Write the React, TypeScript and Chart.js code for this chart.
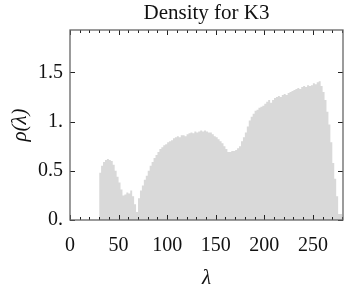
import React, { useEffect, useRef } from "react";
import { Chart, registerables } from "chart.js";

Chart.register(...registerables);

const title = "Density for K3";
const xLabel = "λ";
const yLabel = "ρ(λ)";
const binStart = 30;
const binWidth = 2;
const density = [
  0.30, 0.48, 0.55, 0.59, 0.61, 0.62, 0.61, 0.60, 0.56, 0.50,
  0.44, 0.38, 0.31, 0.25, 0.26, 0.28, 0.27, 0.30, 0.24, 0.16,
  0.08, 0.22, 0.30, 0.35, 0.41, 0.45, 0.50, 0.55, 0.59, 0.63,
  0.66, 0.69, 0.72, 0.74, 0.76, 0.77, 0.79, 0.80, 0.81, 0.83,
  0.84, 0.85, 0.84, 0.86, 0.86, 0.85, 0.87, 0.88, 0.89, 0.88,
  0.90, 0.89, 0.90, 0.91, 0.90, 0.91, 0.90, 0.89, 0.89, 0.87,
  0.85, 0.84, 0.82, 0.80, 0.78, 0.75, 0.72, 0.69, 0.69, 0.70,
  0.70, 0.71, 0.73, 0.75, 0.80, 0.84, 0.89, 0.95, 1.01, 1.05,
  1.08, 1.11, 1.12, 1.14, 1.15, 1.16, 1.18, 1.20, 1.22, 1.19,
  1.22, 1.24, 1.25, 1.26, 1.25, 1.27, 1.28, 1.27, 1.29, 1.30,
  1.31, 1.32, 1.33, 1.34, 1.33, 1.35, 1.36, 1.35, 1.37, 1.36,
  1.37, 1.39, 1.38, 1.40, 1.41, 1.36, 1.30, 1.22, 1.10, 0.97,
  0.79, 0.58, 0.42, 0.24, 0.06,
];
const xTicks = [0, 50, 100, 150, 200, 250];
const yTicks = [0, 0.5, 1, 1.5];
const yTickLabels = ["0.", "0.5", "1.", "1.5"];
const xMax = 281;
const yMax = 1.93;

const SERIF = "'Liberation Serif', 'DejaVu Serif', serif";

const frameTicks = {
  id: "frameTicks",
  afterDraw(chart: any) {
    const { ctx, chartArea: a, scales } = chart;
    const xs = scales.x;
    const ys = scales.y;
    ctx.save();
    ctx.strokeStyle = "#222";
    ctx.lineWidth = 1;
    ctx.beginPath();
    for (let v = 0; v <= xMax; v += 10) {
      const px = Math.round(xs.getPixelForValue(v)) + 0.5;
      const len = v % 50 === 0 ? 5 : 3;
      ctx.moveTo(px, a.bottom);
      ctx.lineTo(px, a.bottom - len);
      ctx.moveTo(px, a.top);
      ctx.lineTo(px, a.top + len);
    }
    for (const v of yTicks) {
      const py = Math.round(ys.getPixelForValue(v)) + 0.5;
      ctx.moveTo(a.left, py);
      ctx.lineTo(a.left + 5, py);
      ctx.moveTo(a.right, py);
      ctx.lineTo(a.right - 5, py);
    }
    ctx.stroke();
    ctx.strokeStyle = "#666";
    ctx.lineWidth = 1.3;
    ctx.strokeRect(a.left, a.top, a.right - a.left, a.bottom - a.top);
    ctx.fillStyle = "#111";
    ctx.textAlign = "center";
    ctx.textBaseline = "alphabetic";
    ctx.font = `21px ${SERIF}`;
    ctx.fillText(title, (a.left + a.right) / 2, 19);
    ctx.font = `italic 21px ${SERIF}`;
    ctx.fillText(xLabel, (a.left + a.right) / 2, 284);
    ctx.save();
    ctx.translate(26, (a.top + a.bottom) / 2);
    ctx.rotate(-Math.PI / 2);
    ctx.fillText(yLabel, 0, 0);
    ctx.restore();
    ctx.restore();
  },
};

export default function App() {
  const ref = useRef<HTMLCanvasElement | null>(null);
  useEffect(() => {
    if (!ref.current) return;
    const pts = density.map((v, i) => ({ x: binStart + i * binWidth, y: v }));
    pts.push({ x: binStart + density.length * binWidth, y: density[density.length - 1] });
    const chart = new Chart(ref.current, {
      type: "line",
      data: {
        datasets: [
          {
            data: pts,
            stepped: "after",
            fill: "origin",
            backgroundColor: "#d9d9d9",
            borderWidth: 0,
            borderColor: "rgba(0,0,0,0)",
            pointRadius: 0,
          },
        ],
      },
      plugins: [frameTicks],
      options: {
        animation: false,
        responsive: false,
        layout: { padding: { top: 30, right: 2, left: 0, bottom: 0 } },
        plugins: { legend: { display: false }, title: { display: false }, tooltip: { enabled: false } },
        scales: {
          x: {
            type: "linear",
            min: 0,
            max: xMax,
            grid: { display: false, drawTicks: false },
            border: { display: false },
            afterBuildTicks: (s: any) => {
              s.ticks = xTicks.map((v) => ({ value: v }));
            },
            afterFit: (s: any) => {
              s.height = 76;
            },
            ticks: {
              color: "#111",
              padding: 14,
              maxRotation: 0,
              autoSkip: false,
              font: { family: SERIF, size: 20 },
            },
          },
          y: {
            type: "linear",
            min: 0,
            max: yMax,
            grid: { display: false, drawTicks: false },
            border: { display: false },
            afterBuildTicks: (s: any) => {
              s.ticks = yTicks.map((v) => ({ value: v }));
            },
            afterFit: (s: any) => {
              s.width = 70;
            },
            ticks: {
              color: "#111",
              padding: 7,
              autoSkip: false,
              font: { family: SERIF, size: 20 },
              callback: (v: any) => {
                const i = yTicks.indexOf(Number(v));
                return i >= 0 ? yTickLabels[i] : "";
              },
            },
          },
        },
      },
    });
    return () => chart.destroy();
  }, []);
  return (
    <div style={{ position: "fixed", left: 0, top: 0, width: 345, height: 296, background: "#fff" }}>
      <canvas ref={ref} width={345} height={296} style={{ width: 345, height: 296 }} />
    </div>
  );
}
